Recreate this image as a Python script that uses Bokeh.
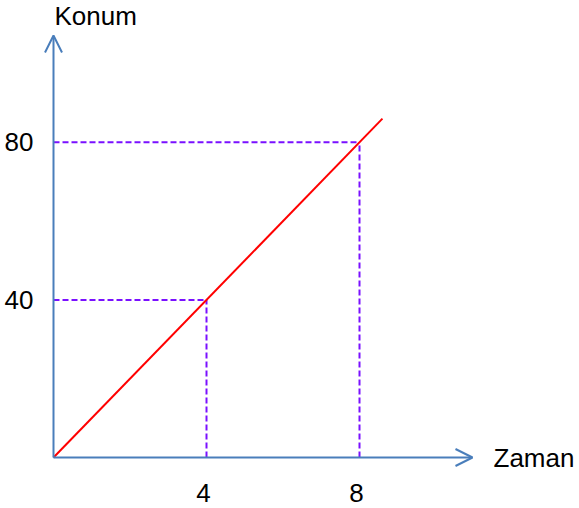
from bokeh.plotting import figure
from bokeh.models import Range1d, Arrow, OpenHead
from bokeh.core.properties import value
from bokeh.embed import file_html
from bokeh.resources import INLINE

# ---- data ----
times = [4, 8]                 # Zaman values marked
positions = [40, 80]           # Konum values marked
line_t = [0, 8.6]              # red line (position = 10 * time)
line_x = [0, 86]
x_tick_labels = ["4", "8"]
y_tick_labels = ["40", "80"]
x_title = "Zaman"
y_title = "Konum"

# ---- layout (style) ----
W, H = 575, 508
ox, oy = 53, 457          # canvas px of origin
kx, ky = 38.25, 3.94      # px per unit
x0 = -ox / kx
y0 = -(H - oy) / ky
x_axis_end = (472 - ox) / kx
y_axis_end = (oy - 35) / ky

p = figure(width=W, height=H, output_backend="svg", toolbar_location=None,
           x_range=Range1d(x0, x0 + W / kx), y_range=Range1d(y0, y0 + H / ky),
           x_axis_type=None, y_axis_type=None, min_border=0)
p.grid.visible = False
p.outline_line_color = None
p.background_fill_color = "white"
p.border_fill_color = "white"

axis_color = "#4a7ebb"
p.add_layout(Arrow(x_start=0, y_start=0, x_end=x_axis_end, y_end=0,
                   line_color=axis_color, line_width=2,
                   end=OpenHead(size=17, line_color=axis_color, line_width=2)))
p.add_layout(Arrow(x_start=0, y_start=0, x_end=0, y_end=y_axis_end,
                   line_color=axis_color, line_width=2,
                   end=OpenHead(size=17, line_color=axis_color, line_width=2)))

dash_color = "#7a10ff"
zeros = [0] * len(times)
p.segment(x0=zeros, y0=positions, x1=times, y1=positions,
          line_color=dash_color, line_width=2, line_dash="6 3")
p.segment(x0=times, y0=zeros, x1=times, y1=positions,
          line_color=dash_color, line_width=2, line_dash="6 3")

p.line(line_t, line_x, line_color="red", line_width=2)

font = value("Liberation Sans")
fs = "26px"
p.text(x=times, y=zeros, text=x_tick_labels, text_font=font, text_font_size=fs,
       text_align="center", text_baseline="middle", x_offset=-3, y_offset=35,
       text_color="black")
p.text(x=[0, 0], y=positions, text=y_tick_labels, text_font=font, text_font_size=fs,
       text_align="right", text_baseline="middle", x_offset=-20,
       text_color="black")
p.text(x=[x_axis_end], y=[0], text=[x_title], text_font=font, text_font_size=fs,
       text_align="left", text_baseline="middle", x_offset=21, text_color="black")
p.text(x=[0], y=[y_axis_end], text=[y_title], text_font=font, text_font_size=fs,
       text_align="left", text_baseline="middle", x_offset=1, y_offset=-20,
       text_color="black")

open("out.html", "w").write(file_html(p, INLINE))
